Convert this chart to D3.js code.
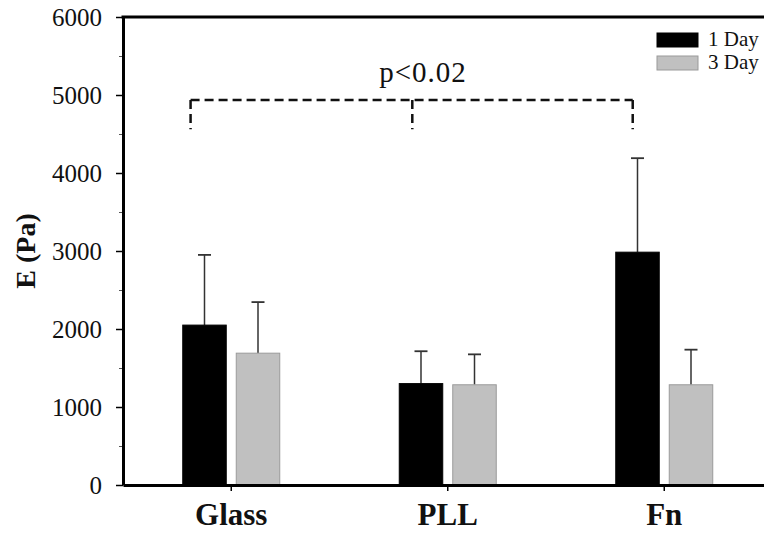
<!DOCTYPE html>
<html>
<head>
<meta charset="utf-8">
<script src="https://cdn.jsdelivr.net/npm/d3@7"></script>
<style>
  body { margin: 0; background: #fff; }
  svg { display: block; }
</style>
</head>
<body>
<div id="chart"></div>
<script>
// data
const categories = ['Glass', 'PLL', 'Fn'];
const seriesNames = ['1 Day', '3 Day'];
const day1Mean = [2050, 1300, 2985];
const day1Err = [900, 415, 1205];
const day3Mean = [1690, 1285, 1285];
const day3Err = [655, 390, 450];
const yTicks = [0, 1000, 2000, 3000, 4000, 5000, 6000];
const yMinorTicks = [500, 1500, 2500, 3500, 4500, 5500];
const sigLabel = 'p<0.02';
const sigGroups = ['Glass', 'PLL', 'Fn'];

const size = { width: 764, height: 533 };
const margin = { left: 123, top: 17, bottom: 48 };

const colors = { '1 Day': '#000000', '3 Day': '#c0c0c0' };
const serif = '"Liberation Serif", "Times New Roman", serif';

const rows = categories.map((c, i) => ({
  cat: c,
  values: [
    { series: '1 Day', mean: day1Mean[i], err: day1Err[i] },
    { series: '3 Day', mean: day3Mean[i], err: day3Err[i] },
  ],
}));

const svg = d3.select('#chart')
  .append('svg')
  .attr('width', size.width)
  .attr('height', size.height);

// x band runs past the right edge of the picture (plot is cropped there)
const x = d3.scaleBand()
  .domain(categories)
  .range([margin.left, margin.left + 3 * 216.5]);

const half = x.bandwidth() / 2;
const xSub = d3.scaleBand()
  .domain(seriesNames)
  .range([half - 48.5, half + 48.5])
  .paddingInner(0.187);

const y = d3.scaleLinear()
  .domain([0, 6000])
  .range([size.height - margin.bottom, margin.top]);

// bars
const groups = svg.selectAll('g.cat')
  .data(rows)
  .enter()
  .append('g')
  .attr('class', 'cat')
  .attr('transform', (d) => `translate(${x(d.cat)},0)`);

groups.selectAll('line.err')
  .data((d) => d.values)
  .enter()
  .append('line')
  .attr('x1', (d) => xSub(d.series) + xSub.bandwidth() / 2)
  .attr('x2', (d) => xSub(d.series) + xSub.bandwidth() / 2)
  .attr('y1', (d) => y(d.mean))
  .attr('y2', (d) => y(d.mean + d.err))
  .attr('stroke', '#333')
  .attr('stroke-width', 1.5);

groups.selectAll('line.cap')
  .data((d) => d.values)
  .enter()
  .append('line')
  .attr('x1', (d) => xSub(d.series) + xSub.bandwidth() / 2 - 6.5)
  .attr('x2', (d) => xSub(d.series) + xSub.bandwidth() / 2 + 6.5)
  .attr('y1', (d) => y(d.mean + d.err))
  .attr('y2', (d) => y(d.mean + d.err))
  .attr('stroke', '#333')
  .attr('stroke-width', 1.8);

groups.selectAll('rect')
  .data((d) => d.values)
  .enter()
  .append('rect')
  .attr('x', (d) => xSub(d.series))
  .attr('y', (d) => y(d.mean))
  .attr('width', xSub.bandwidth())
  .attr('height', (d) => y(0) - y(d.mean))
  .attr('fill', (d) => colors[d.series])
  .attr('stroke', (d) => (d.series === '1 Day' ? '#000' : '#9a9a9a'))
  .attr('stroke-width', 1);

// y axis with minor ticks
svg.append('g')
  .attr('transform', `translate(${margin.left},0)`)
  .call(d3.axisLeft(y).tickValues(yMinorTicks).tickSize(4).tickFormat(''))
  .call((g) => g.select('.domain').remove())
  .call((g) => g.selectAll('line').attr('stroke', '#555').attr('stroke-width', 1));

const yAxis = svg.append('g')
  .attr('transform', `translate(${margin.left},0)`)
  .call(d3.axisLeft(y).tickValues(yTicks).tickFormat(d3.format('d'))
    .tickSize(7).tickSizeOuter(0).tickPadding(14));
yAxis.select('.domain').attr('stroke-width', 3);
yAxis.selectAll('line').attr('stroke-width', 1.5);
yAxis.selectAll('text')
  .style('font-family', serif)
  .style('font-size', '25px')
  .attr('fill', '#111');

// x axis
const xAxis = svg.append('g')
  .attr('transform', `translate(0,${y(0)})`)
  .call(d3.axisBottom(x).tickSize(6).tickSizeOuter(0).tickPadding(12));
xAxis.select('.domain').attr('stroke-width', 3);
xAxis.selectAll('line').attr('stroke-width', 1.5);
xAxis.selectAll('text')
  .style('font-family', serif)
  .style('font-size', '31px')
  .style('font-weight', 'bold')
  .attr('fill', '#111');

// top frame line
svg.append('line')
  .attr('x1', margin.left - 1.5)
  .attr('x2', size.width)
  .attr('y1', y(6000))
  .attr('y2', y(6000))
  .attr('stroke', '#000')
  .attr('stroke-width', 3);

// y label
svg.append('text')
  .attr('transform', `translate(35,${(y(0) + y(6000)) / 2}) rotate(-90)`)
  .attr('text-anchor', 'middle')
  .style('font-family', serif)
  .style('font-size', '28px')
  .style('font-weight', 'bold')
  .attr('fill', '#111')
  .text('E (Pa)');

// significance bracket (drops sit at slightly different spots on the black bars)
const dropFrac = [0.18, 0.3, 0.39];
const sigXs = sigGroups.map((c, i) => x(c) + xSub('1 Day') + dropFrac[i] * xSub.bandwidth());
const sigY = y(4935);
const sigDrop = y(4560);
const bracket = svg.append('g')
  .attr('fill', 'none')
  .attr('stroke', '#111')
  .attr('stroke-width', 2.5)
  .attr('stroke-dasharray', '9,5');
bracket.append('line')
  .attr('x1', sigXs[0]).attr('x2', sigXs[2])
  .attr('y1', sigY).attr('y2', sigY);
sigXs.forEach((sx) => {
  bracket.append('line')
    .attr('x1', sx).attr('x2', sx)
    .attr('y1', sigY).attr('y2', sigDrop);
});
svg.append('text')
  .attr('x', 423)
  .attr('y', y(5170))
  .attr('text-anchor', 'middle')
  .style('font-family', serif)
  .style('font-size', '29px')
  .style('letter-spacing', '1px')
  .attr('fill', '#111')
  .text(sigLabel);

// legend
const legend = svg.append('g')
  .attr('transform', 'translate(657,33)');
seriesNames.forEach((s, i) => {
  legend.append('rect')
    .attr('x', 0)
    .attr('y', i * 23)
    .attr('width', 41)
    .attr('height', 14)
    .attr('fill', colors[s])
    .attr('stroke', i === 0 ? '#000' : '#9a9a9a');
  legend.append('text')
    .attr('x', 51)
    .attr('y', i * 23 + 13)
    .style('font-family', serif)
    .style('font-size', '21px')
    .attr('fill', '#111')
    .text(s);
});
</script>
</body>
</html>
